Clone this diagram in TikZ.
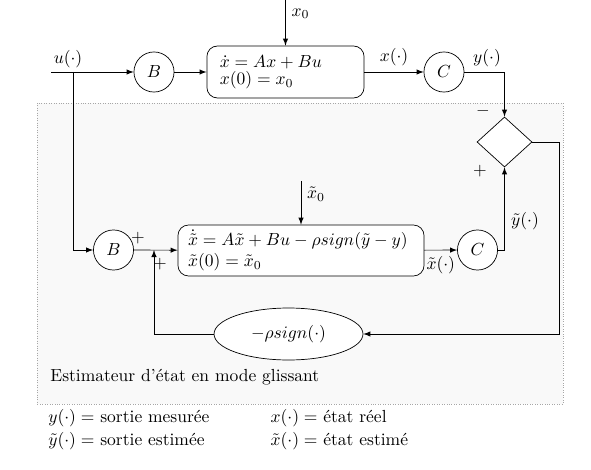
\documentclass[tikz,border=0pt]{standalone}
\usepackage{fontspec}
\usetikzlibrary{shapes.geometric}

\tikzset{
  block/.style={shape=rectangle, rounded corners=6pt, draw=black, fill=white, align=left, inner ysep=0pt},
  gain/.style={shape=circle, draw=black, fill=white, minimum size=22.9pt, inner sep=0pt},
  flow/.style={->, >=latex}
}

\begin{document}
\begin{tikzpicture}[x=0.5714pt, y=-0.5714pt]
        % estimateur en mode glissant
\useasboundingbox (0,0) rectangle (591,470);

\fill[gray!5] (37,103) rectangle (563,404);
\draw[gray!70, densely dotted, thin] (37,103) rectangle (563,404);
\node[anchor=west, inner sep=0pt] at (50,377)
(est) {Estimateur d'état en mode glissant};

% systeme reel
\node[gain] at (154, 72)
(B1) {$B$};

\node[block, minimum width=89.7pt, minimum height=29.7pt, text width=75pt, inner xsep=7.4pt] at (285.5, 72)
(sys) {$\dot{x} = Ax + Bu$\\[-2pt] $x(0) = x_0$};

\node[gain] at (444, 72)
(C1) {$C$};

\node[shape=diamond, draw=black, fill=white, minimum width=31.4pt, minimum height=28.6pt, inner sep=0pt] at (504.5, 142)
(cmp) {};

% observateur
\node[gain] at (113.5, 250)
(B2) {$B$};

\node[block, minimum width=140.6pt, minimum height=29.1pt, text width=129pt, inner xsep=5.7pt] at (301, 250.5)
(obs) {$\dot{\tilde{x}} = A\tilde{x} + Bu - \rho sign(\tilde{y} - y)$\\ $\tilde{x}(0) = \tilde{x}_0$};

\node[gain] at (477.5, 250)
(C2) {$C$};

\node[shape=ellipse, draw=black, fill=white, minimum width=85.1pt, minimum height=29.7pt, inner sep=0pt] at (288.5, 334)
(sgn) {$-\rho sign(\cdot)$};

\coordinate (x0in) at (285.5, 0);
\coordinate (xt0in) at (301, 181);
\coordinate (uin) at (51, 72);
\coordinate (br) at (73, 72);
\coordinate (fbk) at (559, 334);
\coordinate (sum) at (154, 250);

\path[flow]
  (x0in) edge node[right, pos=0.3] {$x_0$} (sys.north)
  (xt0in) edge node[right, pos=0.3] {$\tilde{x}_0$} (obs.north)
  (uin)  edge (B1)
  (B1)   edge (sys)
  (sys)  edge node[above] {$x(\cdot)$} (C1)
  (B2)   edge (obs)
  (obs)  edge node[below] {$\tilde{x}(\cdot)$} (C2)
;
\draw[flow] (br) |- (B2);
\draw[flow] (C1) -| (cmp.north);
\draw[flow] (C2) -| (cmp.south);
\draw[flow] (cmp.east) -| (fbk) -- (sgn.east);
\draw[flow] (sgn.west) -| (sum);

% labels
\node at (68, 59) (ulab) {$u(\cdot)$};
\node at (487, 58) (ylab) {$y(\cdot)$};
\node at (525, 221) (ytlab) {$\tilde{y}(\cdot)$};
\node at (483, 111) (minus) {$-$};
\node at (480, 171) (plus1) {$+$};
\node at (138, 238) (plus2) {$+$};
\node at (160, 264) (plus3) {$+$};

% legende
\node[anchor=west, inner sep=0pt] at (48, 429.5)
(leg) {\begin{tabular}{@{}p{127pt}@{}l@{}}
  $y(\cdot) =$ sortie mesurée & $x(\cdot) =$ état réel\\[1pt]
  $\tilde{y}(\cdot) =$ sortie estimée & $\tilde{x}(\cdot) =$ état estimé
\end{tabular}};
      \end{tikzpicture}
\end{document}
